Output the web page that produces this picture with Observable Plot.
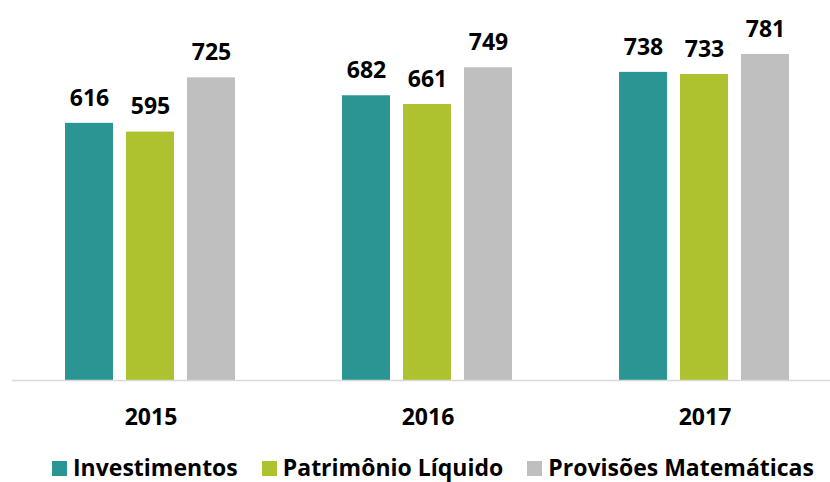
<!DOCTYPE html>
<html>
<head>
<meta charset="utf-8">
<script src="https://cdn.jsdelivr.net/npm/d3@7"></script>
<script src="https://cdn.jsdelivr.net/npm/@observablehq/plot@0.6"></script>
<style>
  body { margin: 0; background: #fff; font-family: "Open Sans", sans-serif; }
  #legend { padding-top: 7px; padding-left: 52px; line-height: 30px; height: 30px; font-size: 23px; font-weight: 700; color: #000; white-space: nowrap; }
  #legend .item { display: inline-block; margin-right: 24px; }
  #legend .sw { display: inline-block; width: 15px; height: 15px; margin-right: 6px; }
</style>
</head>
<body>
<div id="chart"></div>
<div id="legend"></div>
<script>
const years = ["2015", "2016", "2017"];
const seriesNames = ["Investimentos", "Patrimônio Líquido", "Provisões Matemáticas"];
const investimentos = [616, 682, 738];
const patrimonio = [595, 661, 733];
const provisoes = [725, 749, 781];
const colors = ["#2a9592", "#adc22e", "#bfbfbf"];

const valuesBySeries = [investimentos, patrimonio, provisoes];
const data = [];
years.forEach((y, i) => {
  seriesNames.forEach((s, j) => {
    data.push({year: y, series: s, value: valuesBySeries[j][i]});
  });
});

const chart = Plot.plot({
  width: 830,
  height: 445,
  marginLeft: 11,
  marginRight: -14,
  marginTop: 46,
  marginBottom: 65,
  style: {fontFamily: "Open Sans, sans-serif", overflow: "visible"},
  fx: {domain: years, padding: 0, label: null, axis: null},
  x: {domain: seriesNames, paddingInner: 0.211, paddingOuter: 0.863, axis: null},
  y: {domain: [0, 800], axis: null},
  color: {domain: seriesNames, range: colors},
  marks: [
    Plot.barY(data, {fx: "year", x: "series", y: "value", fill: "series"}),
    Plot.ruleY([0], {stroke: "#d9d9d9", strokeWidth: 1.5}),
    Plot.text(data, {fx: "year", x: "series", y: "value", text: d => String(d.value),
      dy: -25, fontSize: 23, fontWeight: 700, fill: "#000"}),
    Plot.axisFx({anchor: "bottom", tickSize: 0, tickPadding: 28, fontSize: 23, fontWeight: 700, fill: "#000", label: null})
  ]
});
document.getElementById("chart").appendChild(chart);

const legend = document.getElementById("legend");
seriesNames.forEach((s, j) => {
  const item = document.createElement("span");
  item.className = "item";
  const sw = document.createElement("span");
  sw.className = "sw";
  sw.style.background = colors[j];
  item.appendChild(sw);
  item.appendChild(document.createTextNode(s));
  legend.appendChild(item);
});
</script>
</body>
</html>
